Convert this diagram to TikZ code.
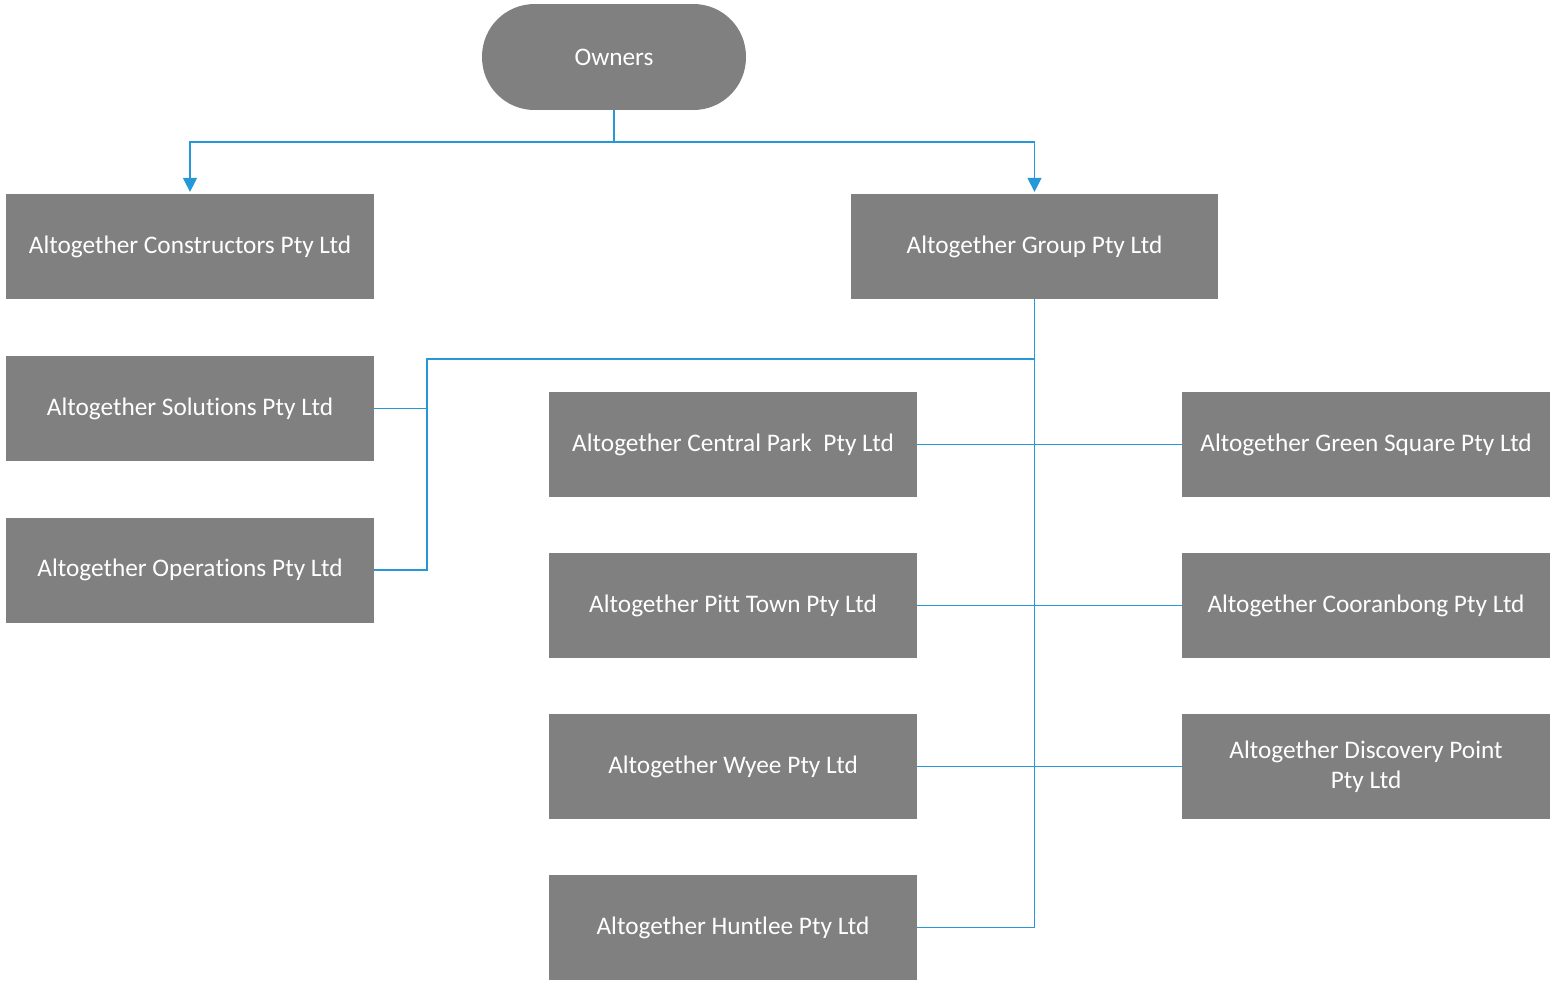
\documentclass[tikz,border=0pt]{standalone}
\usepackage{fontspec}
\setmainfont{Carlito}[Ligatures={NoCommon,NoContextual,NoRequired}]
\usepackage{tikz}
\usetikzlibrary{arrows.meta}
\definecolor{boxgray}{RGB}{128,128,128}
\definecolor{linkblue}{RGB}{38,152,216}
\tikzset{
  orgnode/.style = {align=center, inner sep=0pt, text centered,
    font=\fontsize{14.4}{17}\selectfont, white},
  org_box/.style = {orgnode, rectangle, fill=boxgray,
    minimum width=7.36cm, minimum height=2.1cm},% societe
  org_top/.style = {orgnode, rectangle, rounded corners=1.05cm, fill=boxgray,
    minimum width=5.28cm, minimum height=2.12cm},% proprietaires
  link/.style = {draw=linkblue, line width=0.6pt},
  link_arr/.style = {link, -{Triangle[width=8pt,length=8pt]}, shorten >=1pt},
}
\begin{document}
\begin{tikzpicture}[x=0.02cm,y=-0.02cm]
  \useasboundingbox (0,0) rectangle (1550,981);

  \node[org_top] (own) at (614,57) {Owners};

  \node[org_box] (con) at (190,246.5) {Altogether Constructors Pty Ltd};
  \node[org_box] (grp) at (1034.5,246.5) {Altogether Group Pty Ltd};

  \node[org_box] (sol) at (190,408.5) {Altogether Solu\kern0ptti\kern0ptons Pty Ltd};
  \node[org_box] (ops) at (190,570) {Altogether Opera\kern0ptti\kern0ptons Pty Ltd};

  \node[org_box] (cpk) at (733,444.5) {Altogether Central Park\ \ Pty Ltd};
  \node[org_box] (pit) at (733,605.5) {Altogether Pit\kern0ptt Town Pty Ltd};
  \node[org_box] (wye) at (733,766.5) {Altogether Wyee Pty Ltd};
  \node[org_box] (hun) at (733,927.5) {Altogether Huntlee Pty Ltd};

  \node[org_box] (gsq) at (1366,444.5) {Altogether Green Square Pty Ltd};
  \node[org_box] (coo) at (1366,605.5) {Altogether Cooranbong Pty Ltd};
  \node[org_box] (dis) at (1366,766.5) {Altogether Discovery Point\\Pty Ltd};

  \coordinate (ownj) at (614,142);
  \coordinate (grpj) at (427,359);

  %   owners
  \draw[link] (own.south) -- (ownj);
  \draw[link_arr] (ownj) -| (con.north);
  \draw[link_arr] (ownj) -| (grp.north);
  %   group
  \draw[link] (grp.south) |- (hun.east);
  \draw[link] (grp.south |- grpj) -- (grpj) |- (ops.east);
  \draw[link] (grpj |- sol.east) -- (sol.east);
  \draw[link] (cpk.east) -- (gsq.west);
  \draw[link] (pit.east) -- (coo.west);
  \draw[link] (wye.east) -- (dis.west);
\end{tikzpicture}
\end{document}
